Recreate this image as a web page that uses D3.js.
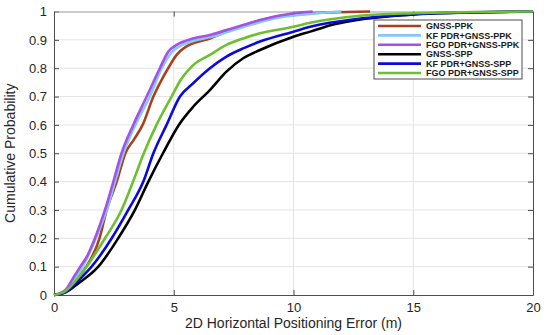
<!DOCTYPE html>
<html>
<head>
<meta charset="utf-8">
<script src="https://cdn.jsdelivr.net/npm/d3@7"></script>
<style>
  body { margin: 0; background: #fff; }
  text { font-family: "Liberation Sans", Arial, sans-serif; }
</style>
</head>
<body>
<svg id="chart"></svg>
<script>
// ==================================================
// data: [error (m), cumulative probability]

const seriesNames = [
    "GNSS-PPK",
    "KF PDR+GNSS-PPK",
    "FGO PDR+GNSS-PPK",
    "GNSS-SPP",
    "KF PDR+GNSS-SPP",
    "FGO PDR+GNSS-SPP"
];

const seriesColors = ["#a8401e", "#85c8f2", "#a550e6", "#000000", "#0a0ae0", "#6cc02e"];

const gnssPpk = [[0,0],[0.3,0.005],[0.6,0.02],[1.0,0.06],[1.35,0.1],[1.9,0.2],[2.2,0.3],[2.62,0.4],[2.98,0.5],
    [3.35,0.55],[3.7,0.6],[4.15,0.7],[4.5,0.76],[4.77,0.8],[5.12,0.847],[5.5,0.875],[5.81,0.888],
    [6.51,0.905],[7.2,0.929],[7.9,0.95],[8.6,0.968],[9.5,0.985],[10.5,0.993],[11.5,0.997],[13.2,1]];

const kfPpk = [[0,0],[0.5,0.015],[0.9,0.06],[1.2,0.1],[1.75,0.2],[2.2,0.3],[2.55,0.4],[2.9,0.5],[3.4,0.6],
    [4.0,0.7],[4.5,0.8],[4.9,0.855],[5.3,0.88],[6.0,0.9],[6.8,0.915],[7.5,0.935],[8.3,0.955],
    [9.2,0.975],[10.5,0.99],[12,1]];

const fgoPpk = [[0,0],[0.5,0.02],[0.8,0.06],[1.1,0.1],[1.4,0.14],[1.71,0.2],[2.13,0.3],[2.48,0.4],[2.82,0.5],
    [3.31,0.6],[3.87,0.7],[4.42,0.8],[4.77,0.858],[5.12,0.882],[5.81,0.905],[6.51,0.917],[7.2,0.935],
    [7.9,0.952],[8.6,0.97],[10.0,0.994],[10.8,1]];

const gnssSpp = [[0,0],[0.5,0.01],[1.0,0.04],[1.85,0.1],[2.68,0.2],[3.38,0.3],[3.94,0.4],[4.55,0.5],[5.26,0.606],
    [5.81,0.664],[6.51,0.723],[7.2,0.788],[7.9,0.835],[8.6,0.864],[10.0,0.911],[10.7,0.929],[11.7,0.955],
    [12.8,0.972],[14,0.983],[15,0.99],[17,0.996],[20,1]];

const kfSpp = [[0,0],[0.5,0.012],[1.0,0.05],[1.57,0.1],[2.41,0.2],[3.1,0.3],[3.73,0.4],[4.15,0.5],[4.7,0.6],
    [5.26,0.7],[5.81,0.747],[6.51,0.8],[7.2,0.841],[7.9,0.87],[8.6,0.894],[10.0,0.929],[10.7,0.946],
    [12.8,0.975],[15,0.99],[17.5,0.997],[20,1]];

const fgoSpp = [[0,0],[0.5,0.015],[1.0,0.06],[1.36,0.1],[2.13,0.2],[2.82,0.3],[3.3,0.4],[3.75,0.5],[4.28,0.6],
    [4.91,0.7],[5.3,0.76],[5.81,0.811],[6.51,0.847],[7.2,0.882],[7.9,0.905],[8.6,0.923],[10.0,0.946],
    [10.7,0.96],[12.8,0.985],[15,0.994],[17.5,0.998],[20,1]];

const seriesValues = [gnssPpk, kfPpk, fgoPpk, gnssSpp, kfSpp, fgoSpp];

const xTicks = [0, 5, 10, 15, 20];
const yTicks = [0, 0.1, 0.2, 0.3, 0.4, 0.5, 0.6, 0.7, 0.8, 0.9, 1];

// ==================================================

const width = 550, height = 335;
const margin = {top: 11.5, right: 17, bottom: 40, left: 54};

const svg = d3.select("#chart").attr("width", width).attr("height", height);

const x = d3.scaleLinear().domain([0, 20]).range([margin.left, width - margin.right]);
const y = d3.scaleLinear().domain([0, 1]).range([height - margin.bottom, margin.top]);

// grid
svg.append("g")
    .selectAll("line.vg")
    .data(xTicks.slice(1, -1))
    .join("line")
    .attr("x1", d => x(d)).attr("x2", d => x(d))
    .attr("y1", y(0)).attr("y2", y(1))
    .attr("stroke", "#e3e3e3").attr("stroke-width", 1);

svg.append("g")
    .selectAll("line.hg")
    .data(yTicks.slice(1, -1))
    .join("line")
    .attr("x1", x(0)).attr("x2", x(20))
    .attr("y1", d => y(d)).attr("y2", d => y(d))
    .attr("stroke", "#e3e3e3").attr("stroke-width", 1);

// box and inward ticks on all four sides
function styleAxis(g) {
    g.select(".domain").attr("stroke", "#4d4d4d");
    g.selectAll(".tick line").attr("stroke", "#4d4d4d");
    g.selectAll(".tick text").attr("fill", "#262626").attr("font-size", 13);
}

svg.append("g")
    .attr("transform", `translate(0,${y(0)})`)
    .call(d3.axisBottom(x).tickValues(xTicks).tickSize(-5).tickSizeOuter(0).tickPadding(8))
    .call(styleAxis);

svg.append("g")
    .attr("transform", `translate(${x(0)},0)`)
    .call(d3.axisLeft(y).tickValues(yTicks).tickFormat(d3.format("~g")).tickSize(-5).tickSizeOuter(0).tickPadding(7))
    .call(styleAxis);

svg.append("g")
    .attr("transform", `translate(0,${y(1)})`)
    .call(d3.axisTop(x).tickValues(xTicks).tickSize(-5).tickSizeOuter(0).tickFormat(""))
    .call(styleAxis)
    .select(".domain").attr("stroke", "#999");

svg.append("g")
    .attr("transform", `translate(${x(20)},0)`)
    .call(d3.axisRight(y).tickValues(yTicks).tickSize(-5).tickSizeOuter(0).tickFormat(""))
    .call(styleAxis);

// curves
const line = d3.line().x(d => x(d[0])).y(d => y(d[1])).curve(d3.curveMonotoneX);

svg.append("g")
    .selectAll("path")
    .data(seriesValues)
    .join("path")
    .attr("d", line)
    .attr("fill", "none")
    .attr("stroke", (d, i) => seriesColors[i])
    .attr("stroke-width", 2.6)
    .attr("stroke-linejoin", "round");

// axis titles
svg.append("text")
    .attr("x", (x(0) + x(20)) / 2).attr("y", 328)
    .attr("text-anchor", "middle")
    .attr("font-size", 14).attr("fill", "#262626")
    .text("2D Horizontal Positioning Error (m)");

svg.append("text")
    .attr("transform", `translate(15,${(y(0) + y(1)) / 2}) rotate(-90)`)
    .attr("text-anchor", "middle")
    .attr("font-size", 14).attr("fill", "#262626")
    .text("Cumulative Probability");

// legend
const lg = svg.append("g").attr("transform", "translate(374,20)");
lg.append("rect")
    .attr("width", 148).attr("height", 59)
    .attr("fill", "#fff").attr("stroke", "#4d4d4d").attr("stroke-width", 1);

const rows = lg.selectAll("g.row")
    .data(seriesNames)
    .join("g")
    .attr("transform", (d, i) => `translate(0,${6 + i * 9.4})`);

rows.append("line")
    .attr("x1", 4).attr("x2", 47)
    .attr("stroke", (d, i) => seriesColors[i])
    .attr("stroke-width", 2.6);

rows.append("text")
    .attr("x", 52).attr("dy", "0.35em")
    .attr("font-size", 9).attr("font-weight", "bold").attr("fill", "#1a1a1a")
    .text(d => d);
</script>
</body>
</html>
